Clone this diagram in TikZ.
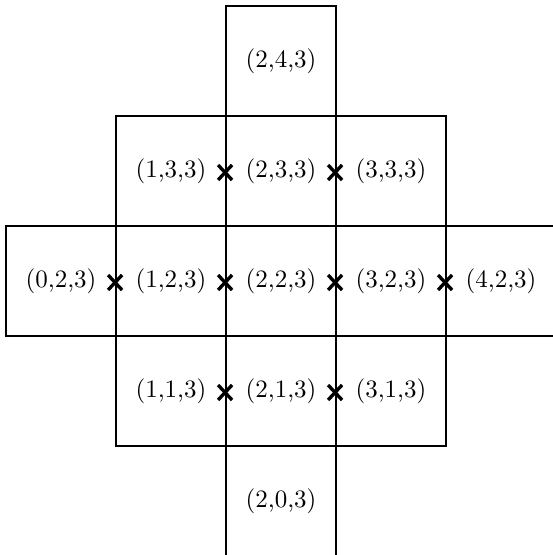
\documentclass[tikz,border=0pt]{standalone}
\begin{document}
\begin{tikzpicture}[x=0.4pt,y=0.4pt,
  cell/.style={draw,line width=0.75pt,minimum width=44pt,minimum height=44pt,inner sep=0pt},
  crossmark/.style={line width=1.35pt}]
\useasboundingbox (0,1) rectangle (553,556);
\clip (0,1) rectangle (553,556);
\node[cell] (c24) at (281,495) {(2,4,3)};
\node[cell] (c13) at (171,385) {(1,3,3)};
\node[cell] (c23) at (281,385) {(2,3,3)};
\node[cell] (c33) at (391,385) {(3,3,3)};
\node[cell] (c02) at (61,275) {(0,2,3)};
\node[cell] (c12) at (171,275) {(1,2,3)};
\node[cell] (c22) at (281,275) {(2,2,3)};
\node[cell] (c32) at (391,275) {(3,2,3)};
\node[cell] (c42) at (501,275) {(4,2,3)};
\node[cell] (c11) at (171,165) {(1,1,3)};
\node[cell] (c21) at (281,165) {(2,1,3)};
\node[cell] (c31) at (391,165) {(3,1,3)};
\node[cell] (c20) at (281,55) {(2,0,3)};
\foreach \c in {c23,c33,c12,c22,c32,c42,c21,c31}{
  \draw[crossmark] ([shift={(-7,-9)}]\c.west) -- ([shift={(7,6)}]\c.west);
  \draw[crossmark] ([shift={(-7,6)}]\c.west) -- ([shift={(7,-9)}]\c.west);
}
\end{tikzpicture}
\end{document}
